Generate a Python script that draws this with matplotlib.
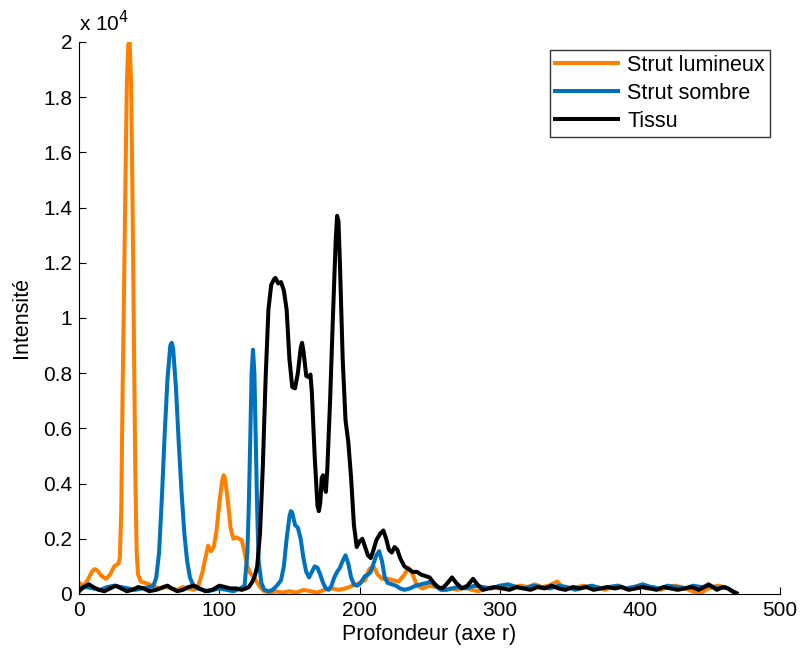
import matplotlib
matplotlib.use("Agg")
import matplotlib.pyplot as plt
from matplotlib.ticker import FuncFormatter

plt.rcParams['font.family'] = ['Liberation Sans', 'DejaVu Sans']

# ---------------- data (depth, intensity) ----------------
lumineux = [(0, 400), (3, 300), (6, 500), (9, 800), (11, 900), (13, 850), (16, 650), (19, 550), (22, 700),
            (25, 1000), (28, 1100), (29, 1300), (30, 3000), (31, 7500), (32, 11000), (33, 15000),
            (34, 18500), (35, 19900), (36, 20000), (37, 18500), (38, 14500), (39, 9500), (40, 4500),
            (41, 1500), (42, 700), (44, 450), (47, 400), (50, 350), (54, 250), (58, 200), (62, 250),
            (66, 200), (70, 150), (74, 250), (78, 200), (82, 150), (85, 300), (88, 800), (90, 1300),
            (92, 1750), (94, 1550), (96, 1700), (98, 2300), (100, 3300), (102, 4100), (103, 4300),
            (104, 4200), (106, 3400), (108, 2400), (110, 2000), (112, 2050), (114, 2000), (116, 1950),
            (118, 1500), (120, 1000), (122, 750), (124, 650), (126, 500), (129, 250), (132, 100),
            (136, 50), (140, 100), (145, 50), (150, 100), (155, 50), (160, 150), (165, 100), (170, 50),
            (175, 150), (180, 200), (185, 150), (190, 200), (195, 300), (200, 400), (204, 500),
            (207, 900), (210, 1000), (213, 700), (216, 550), (220, 550), (224, 500), (228, 450),
            (232, 700), (235, 950), (238, 700), (241, 300), (245, 200), (250, 300), (255, 250),
            (260, 150), (265, 200), (270, 150), (275, 250), (280, 150), (285, 100), (290, 200),
            (295, 250), (300, 200), (305, 300), (310, 250), (315, 300), (320, 250), (325, 350),
            (330, 250), (335, 300), (341, 450), (345, 250), (350, 200), (355, 250), (360, 300),
            (365, 200), (370, 250), (375, 150), (380, 250), (385, 300), (390, 200), (395, 250),
            (400, 300), (405, 200), (410, 250), (415, 150), (420, 250), (425, 300), (430, 250),
            (435, 150), (440, 50), (443, 0), (447, 150), (452, 250), (456, 300), (460, 250)]

sombre = [(0, 200), (5, 250), (10, 200), (15, 150), (20, 250), (25, 300), (30, 250), (35, 200), (40, 150),
          (45, 200), (50, 250), (53, 300), (55, 600), (57, 1500), (59, 3500), (61, 5800), (63, 7800),
          (65, 9000), (66, 9100), (67, 8900), (69, 7500), (71, 5500), (73, 3700), (75, 2200), (77, 1200),
          (79, 600), (81, 350), (84, 200), (88, 150), (92, 100), (96, 150), (100, 200), (105, 150),
          (110, 100), (115, 200), (118, 300), (120, 1500), (121, 3200), (122, 5500), (123, 8000),
          (124, 8850), (125, 8000), (126, 5500), (127, 3000), (128, 1200), (130, 400), (132, 150),
          (135, 100), (138, 150), (141, 300), (144, 500), (146, 1000), (148, 2000), (150, 2800),
          (151, 3000), (152, 2950), (154, 2500), (156, 2400), (158, 2000), (160, 1300), (162, 800),
          (164, 600), (166, 800), (168, 1000), (170, 950), (172, 700), (174, 400), (176, 200),
          (178, 150), (180, 300), (182, 600), (184, 800), (186, 950), (188, 1200), (190, 1400),
          (192, 1100), (194, 600), (196, 350), (198, 300), (200, 350), (202, 500), (204, 650),
          (206, 700), (208, 800), (210, 1100), (212, 1400), (214, 1550), (216, 1200), (218, 600),
          (220, 400), (223, 350), (226, 300), (229, 200), (232, 150), (236, 200), (240, 300),
          (244, 350), (248, 400), (251, 450), (254, 300), (258, 150), (262, 150), (266, 200),
          (270, 250), (276, 200), (282, 300), (288, 250), (294, 200), (300, 300), (306, 350),
          (312, 250), (318, 200), (324, 300), (330, 250), (336, 200), (342, 300), (348, 250),
          (354, 150), (360, 250), (366, 300), (372, 200), (378, 250), (384, 300), (390, 200),
          (396, 250), (402, 350), (408, 250), (414, 200), (420, 300), (426, 250), (432, 200),
          (438, 300), (444, 250), (450, 300), (456, 200), (461, 250), (466, 100)]

tissu = [(0, 100), (3, 250), (7, 350), (10, 250), (14, 150), (18, 100), (22, 200), (26, 300), (30, 200),
         (34, 100), (38, 150), (42, 250), (46, 200), (50, 100), (55, 150), (60, 250), (63, 300), (66, 200),
         (70, 100), (74, 150), (78, 250), (82, 300), (86, 200), (90, 100), (95, 150), (100, 300),
         (104, 250), (108, 200), (112, 200), (116, 150), (119, 200), (121, 250), (123, 400), (125, 600),
         (127, 1000), (129, 2200), (131, 4600), (133, 7800), (135, 10300), (137, 11200), (139, 11400),
         (140, 11450), (142, 11250), (144, 11300), (146, 11000), (148, 10300), (150, 8500), (152, 7500),
         (154, 7450), (156, 8000), (158, 8900), (159, 9100), (160, 8800), (162, 7900), (164, 7850),
         (165, 7950), (166, 7300), (168, 5000), (170, 3200), (171, 3000), (172, 3300),
         (173, 4200), (174, 4300), (175, 3900), (176, 3700), (177, 4500), (179, 7000), (181, 10000),
         (183, 12800), (184, 13700), (185, 13500), (186, 12000), (188, 8500), (190, 6300), (192, 5500),
         (194, 4200), (196, 2500), (198, 1700), (200, 1900), (202, 2000), (204, 1700), (206, 1400),
         (208, 1300), (210, 1600), (212, 1950), (215, 2200), (217, 2300), (219, 2000), (221, 1600),
         (223, 1500), (225, 1700), (227, 1600), (229, 1300), (232, 1000), (235, 900), (238, 800),
         (241, 800), (244, 700), (247, 650), (250, 600), (253, 400), (256, 250), (259, 200), (262, 350),
         (266, 600), (269, 400), (273, 200), (277, 300), (281, 550), (284, 350), (288, 150), (292, 200),
         (297, 250), (302, 200), (307, 150), (312, 250), (317, 200), (322, 150), (327, 250), (332, 200),
         (337, 300), (342, 200), (347, 150), (352, 250), (357, 200), (362, 250), (367, 150), (372, 200),
         (377, 250), (382, 200), (387, 250), (392, 150), (397, 200), (402, 250), (407, 200), (412, 150),
         (417, 250), (422, 200), (427, 150), (432, 200), (437, 250), (442, 150), (446, 250), (449, 350),
         (452, 250), (455, 150), (459, 250), (463, 200), (466, 100), (469, 30)]

labels = ["Strut lumineux", "Strut sombre", "Tissu"]
colors = ["#FF8000", "#0072BD", "#000000"]
y_ticks = [0, 2000, 4000, 6000, 8000, 10000, 12000, 14000, 16000, 18000, 20000]
x_ticks = [0, 100, 200, 300, 400, 500]

# ---------------- figure ----------------
fig = plt.figure(figsize=(8.0, 6.51), dpi=100)
ax = fig.add_axes([0.099, 0.0876, 0.876, 0.848])

for series, lab, c in zip([lumineux, sombre, tissu], labels, colors):
    xs = [p[0] for p in series]
    ys = [p[1] for p in series]
    ax.plot(xs, ys, color=c, lw=2.9, label=lab, solid_joinstyle='round')

ax.set_xlim(0, 500)
ax.set_ylim(0, 20000)
ax.set_xticks(x_ticks)
ax.set_yticks(y_ticks)
ax.yaxis.set_major_formatter(FuncFormatter(lambda v, p: "%g" % (v / 1e4)))
ax.tick_params(direction='in', length=5, width=0.8, labelsize=15, pad=5)
for s in ['top', 'right']:
    ax.spines[s].set_visible(False)
for s in ['left', 'bottom']:
    ax.spines[s].set_linewidth(0.8)

ax.set_xlabel("Profondeur (axe r)", fontsize=15.5, labelpad=3)
ax.set_ylabel("Intensité", fontsize=15.5, labelpad=8)
ax.text(0.0, 1.012, "x 10$^{4}$", transform=ax.transAxes, fontsize=15, ha='left', va='bottom')

leg = ax.legend(loc='upper right', bbox_to_anchor=(0.9857, 0.9855), fontsize=15.5, frameon=True,
                fancybox=False, edgecolor='black', handlelength=2.9, borderpad=0.23,
                labelspacing=0.32, handletextpad=0.45, borderaxespad=0.0)
leg.get_frame().set_linewidth(1.0)

fig.savefig("out.png", dpi=100)
